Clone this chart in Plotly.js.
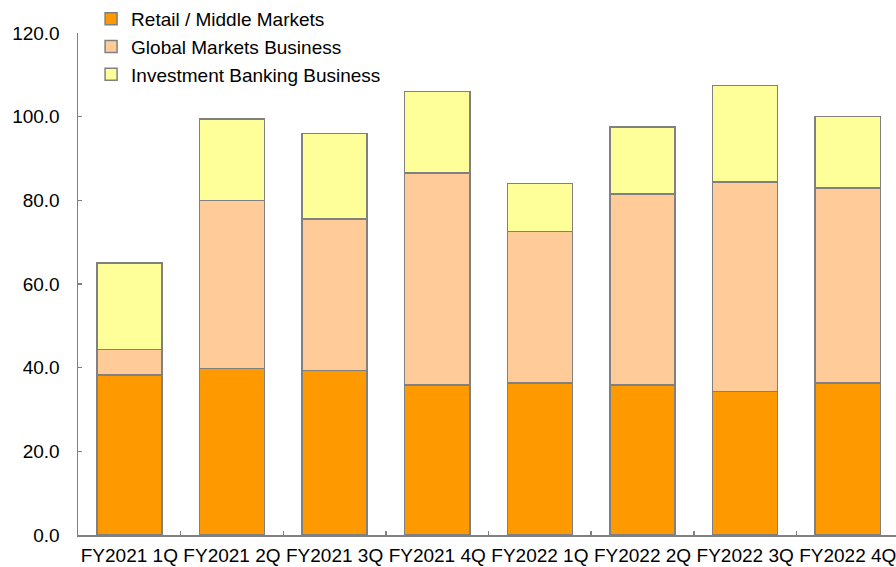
<!DOCTYPE html>
<html>
<head>
<meta charset="utf-8">
<script src="https://cdn.plot.ly/plotly-3.0.1.min.js"></script>
<style>
  html, body { margin: 0; padding: 0; background: #ffffff; }
  #chart { width: 896px; height: 567px; }
</style>
</head>
<body>
<div id="chart"></div>
<script>
// Quarterly revenue by business line, stacked
const quarters = ["FY2021 1Q", "FY2021 2Q", "FY2021 3Q", "FY2021 4Q",
                  "FY2022 1Q", "FY2022 2Q", "FY2022 3Q", "FY2022 4Q"];
const retailMiddle = [38.3, 39.8, 39.3, 35.9, 36.3, 35.9, 34.3, 36.3];
const globalMarkets = [6.1, 40.2, 36.2, 50.6, 36.2, 45.6, 50.1, 46.7];
const investmentBanking = [20.6, 19.5, 20.5, 19.5, 11.5, 16.0, 23.1, 17.0];

const seriesNames = ["Retail / Middle Markets", "Global Markets Business", "Investment Banking Business"];
const seriesColors = ["#FF9900", "#FFCC99", "#FFFF99"];
const seriesValues = [retailMiddle, globalMarkets, investmentBanking];

const edge = "#808080";
const font = { family: "Liberation Sans, Arial, sans-serif", size: 19, color: "#000000" };

const traces = seriesValues.map((vals, i) => ({
  type: "bar",
  name: seriesNames[i],
  x: quarters,
  y: vals,
  legendgroup: "g" + i,
  marker: { color: seriesColors[i], line: { color: edge, width: 1.5 } },
  hoverinfo: "x+y+name"
}));

const layout = {
  width: 896,
  height: 567,
  margin: { l: 78, r: 0, t: 31, b: 32, pad: 0 },
  paper_bgcolor: "#ffffff",
  plot_bgcolor: "#ffffff",
  font: font,
  barmode: "stack",
  bargap: 0.366,
  showlegend: true,
  legend: {
    traceorder: "normal",
    x: 0.016, xanchor: "left",
    y: 1.066, yanchor: "top",
    bgcolor: "rgba(0,0,0,0)",
    font: font,
    tracegroupgap: 1.5,
    itemwidth: 30
  },
  xaxis: {
    type: "category",
    range: [-0.5, 7.47],
    showgrid: false,
    showline: true,
    linecolor: edge,
    linewidth: 1.5,
    ticks: "inside",
    tickson: "boundaries",
    ticklen: 4,
    tickwidth: 1.5,
    tickcolor: edge,
    tickangle: 0,
    ticklabelstandoff: 3,
    tickfont: font,
    zeroline: false
  },
  yaxis: {
    range: [0, 120],
    dtick: 20,
    tick0: 0,
    tickformat: ".1f",
    showgrid: false,
    showline: true,
    linecolor: edge,
    linewidth: 1.5,
    ticks: "inside",
    ticklen: 4,
    tickwidth: 1.5,
    tickcolor: edge,
    ticklabelstandoff: 13,
    tickfont: font,
    zeroline: false
  }
};

Plotly.newPlot("chart", traces, layout, { staticPlot: true, displayModeBar: false });
</script>
</body>
</html>
